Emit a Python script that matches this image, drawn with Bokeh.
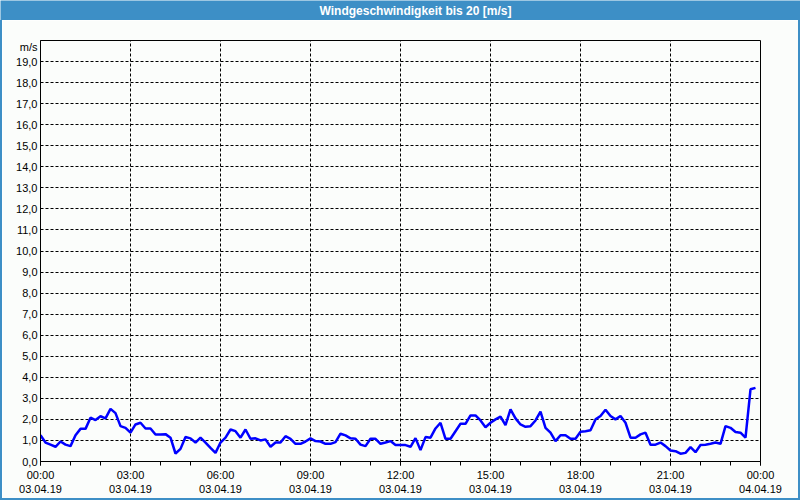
from bokeh.plotting import figure
from bokeh.models import FixedTicker, Div
from bokeh.layouts import column, row
from bokeh.core.properties import value
from bokeh.embed import file_html
from bokeh.resources import INLINE

# wind speed [m/s], one value every 10 minutes from 03.04.19 00:00
v_00_04 = [1.25, 0.9, 0.8, 0.7, 0.95, 0.8, 0.73, 1.25, 1.55, 1.55, 2.08, 1.97,
           2.15, 2.05, 2.5, 2.3, 1.68, 1.6, 1.37, 1.76, 1.84, 1.57, 1.57, 1.28]
v_04_08 = [1.28, 1.3, 1.13, 0.38, 0.6, 1.16, 1.1, 0.9, 1.13, 0.9, 0.65, 0.41,
           0.9, 1.13, 1.52, 1.44, 1.13, 1.52, 1.08, 1.1, 1.0, 1.05, 0.7, 0.9]
v_08_12 = [0.9, 1.2, 1.08, 0.84, 0.84, 0.95, 1.1, 0.97, 0.95, 0.84, 0.84, 0.92,
           1.32, 1.24, 1.1, 1.08, 0.8, 0.73, 1.08, 1.08, 0.84, 0.9, 0.97, 0.78]
v_12_16 = [0.78, 0.78, 0.7, 1.11, 0.54, 1.16, 1.13, 1.57, 1.84, 1.08, 1.08, 1.44,
           1.79, 1.79, 2.19, 2.19, 1.95, 1.63, 1.84, 2.0, 2.13, 1.73, 2.48, 2.05]
v_16_20 = [1.76, 1.65, 1.68, 1.95, 2.37, 1.6, 1.37, 0.97, 1.25, 1.25, 1.08, 1.08,
           1.41, 1.44, 1.48, 2.0, 2.16, 2.46, 2.16, 2.0, 2.16, 1.84, 1.13, 1.13]
v_20_24 = [1.29, 1.37, 0.8, 0.8, 0.9, 0.73, 0.52, 0.49, 0.37, 0.41, 0.68, 0.44,
           0.78, 0.8, 0.84, 0.9, 0.84, 1.68, 1.6, 1.4, 1.37, 1.13, 3.43, 3.5]
speed = v_00_04 + v_04_08 + v_08_12 + v_12_16 + v_16_20 + v_20_24
minutes = [10 * i for i in range(len(speed))]
hours = [m / 60 for m in minutes]

x_ticks = [0, 3, 6, 9, 12, 15, 18, 21, 24]
x_tick_times = ["00:00", "03:00", "06:00", "09:00", "12:00", "15:00", "18:00", "21:00", "00:00"]
x_tick_dates = ["03.04.19"] * 8 + ["04.04.19"]
y_ticks = list(range(0, 20))
y_labels = ["%d,0" % t for t in y_ticks]
title_text = "Windgeschwindigkeit bis 20 [m/s]"
unit_text = "m/s"

BLUE = "#3d8fc6"
BG = "#fbfdfb"
FONT = "Liberation Sans"

# ---- title bar ----
head = figure(width=800, height=20, x_range=(0, 800), y_range=(0, 20),
              output_backend="svg", toolbar_location=None,
              x_axis_type=None, y_axis_type=None, min_border=0)
head.background_fill_color = BLUE
head.border_fill_color = BLUE
head.outline_line_color = None
head.grid.visible = False
head.text(x=[415], y=[10], text=[title_text], text_color="white",
          text_font=value(FONT), text_font_style="bold", text_font_size="12px",
          text_align="center", text_baseline="middle")

# ---- main chart ----
p = figure(width=796, height=478, x_range=(0, 24), y_range=(0, 20),
           output_backend="svg", toolbar_location=None,
           min_border_left=38, min_border_right=38,
           min_border_top=20, min_border_bottom=37)
p.background_fill_color = BG
p.border_fill_color = BG
p.outline_line_color = "black"
p.outline_line_width = 1

p.line(hours, speed, line_color="#0000ff", line_width=2.5)

xa = p.xaxis[0]
xa.ticker = FixedTicker(ticks=x_ticks, minor_ticks=list(range(0, 25)))
xa.major_label_overrides = {t: a + "\n" + b for t, a, b in zip(x_ticks, x_tick_times, x_tick_dates)}
xa.major_tick_out = 4
xa.major_tick_in = 0
xa.minor_tick_out = 4
xa.minor_tick_in = 0
xa.major_label_standoff = 3
xa.major_label_text_font = FONT
xa.major_label_text_font_size = "11px"
xa.major_label_text_color = "black"
xa.axis_line_color = "black"
xa.major_tick_line_color = "black"
xa.minor_tick_line_color = "black"

ya = p.yaxis[0]
ya.ticker = FixedTicker(ticks=y_ticks + [19.7])
overrides = {t: l for t, l in zip(y_ticks, y_labels)}
overrides[19.7] = unit_text
ya.major_label_overrides = overrides
ya.major_tick_out = 0
ya.major_tick_in = 0
ya.minor_tick_out = 0
ya.minor_tick_in = 0
ya.major_label_standoff = 3
ya.major_label_text_font = FONT
ya.major_label_text_font_size = "11px"
ya.major_label_text_color = "black"
ya.axis_line_color = "black"

p.xgrid.ticker = FixedTicker(ticks=x_ticks[1:-1])
p.ygrid.ticker = FixedTicker(ticks=y_ticks[1:])
for g in (p.xgrid[0], p.ygrid[0]):
    g.grid_line_color = "black"
    g.grid_line_dash = "3 2"
    g.grid_line_width = 1

# ---- window border ----
def strip(w, h):
    return Div(width=w, height=h, text="", margin=0,
               styles={"background-color": BLUE})

layout = column(head,
                row(strip(2, 478), p, strip(2, 478), spacing=0),
                strip(800, 2), spacing=0)

open("out.html", "w").write(file_html(layout, INLINE))
